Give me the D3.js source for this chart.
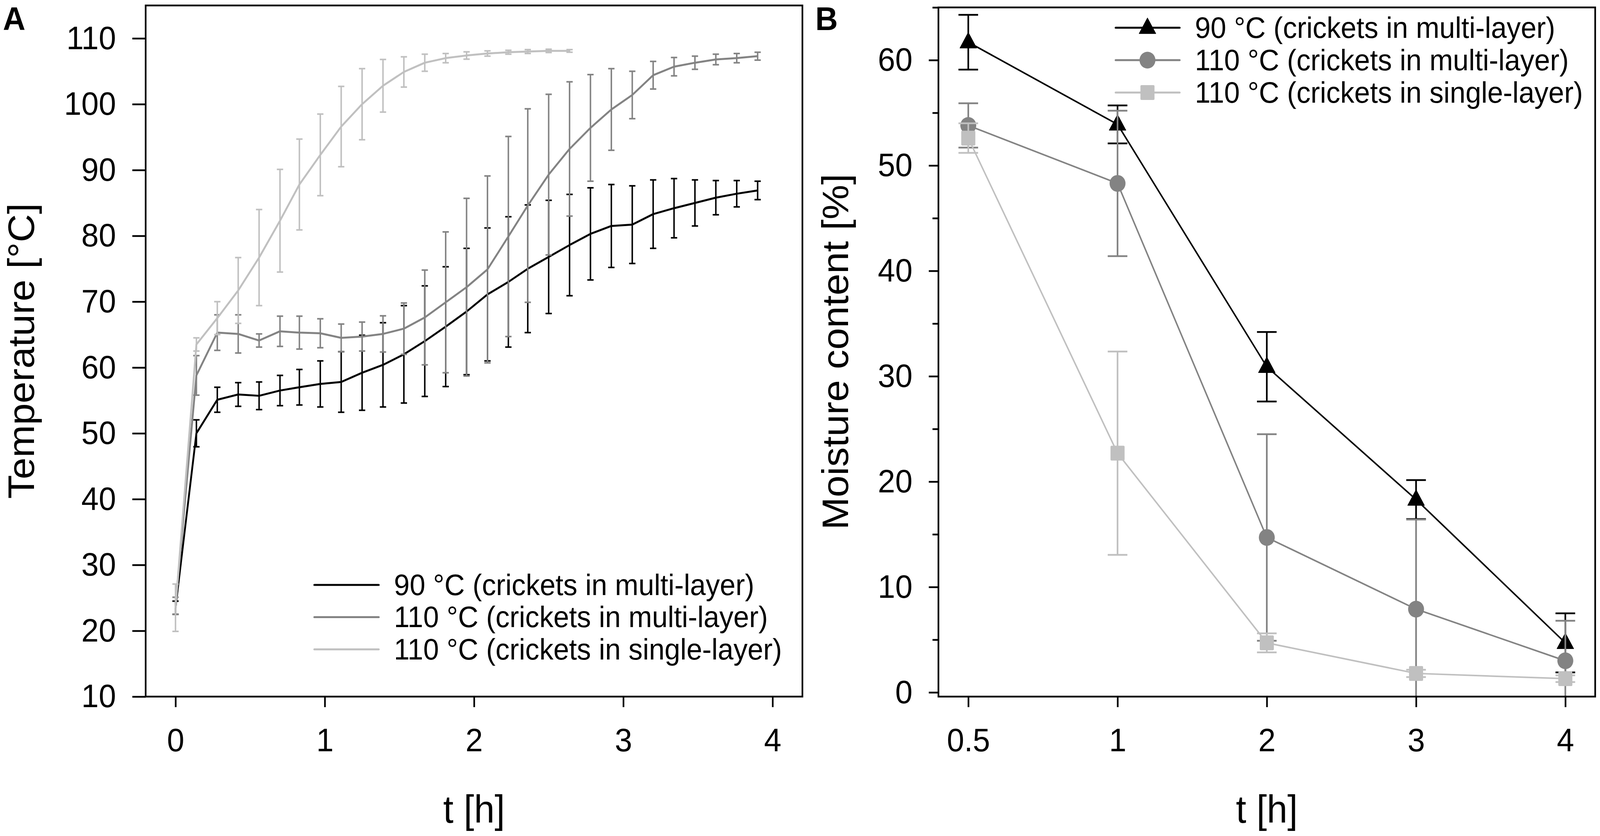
<!DOCTYPE html>
<html>
<head>
<meta charset="utf-8">
<script src="https://cdn.jsdelivr.net/npm/d3@7"></script>
<style>
  html, body { margin: 0; padding: 0; width: 100%; height: 100%; overflow: hidden; background: #fff; }
  svg { display: block; width: 100vw; height: 100vh; }
  text { font-family: "Liberation Sans", Arial, sans-serif; fill: #000; }
</style>
</head>
<body>
<svg id="fig" viewBox="0 0 4317 2141" preserveAspectRatio="none"></svg>
<script>
// Panel A: core temperature during drying (mean and standard deviation)
var timeA = [0, 0.14, 0.28, 0.42, 0.56, 0.7, 0.83, 0.97, 1.11, 1.25, 1.39, 1.53, 1.67, 1.81, 1.95,
             2.09, 2.23, 2.36, 2.5, 2.64, 2.78, 2.92, 3.06, 3.2, 3.34, 3.48, 3.62, 3.76, 3.9];
var temp90Multi = [23.5, 50.0, 55.1, 55.9, 55.7, 56.5, 57.0, 57.5, 57.8, 59.2, 60.4, 62.0, 64.0, 66.2, 68.5,
                   71.1, 73.0, 75.0, 76.8, 78.6, 80.3, 81.5, 81.7, 83.3, 84.2, 85.0, 85.8, 86.4, 86.9];
var temp90MultiSd = [1.0, 2.05, 1.9, 1.8, 2.1, 2.3, 2.7, 3.5, 4.6, 5.7, 6.4, 7.4, 8.4, 9.1, 9.6,
                     10.1, 9.9, 9.7, 8.6, 7.7, 7.0, 6.3, 5.9, 5.2, 4.5, 3.5, 2.6, 2.0, 1.4];
var temp110Multi = [23.8, 58.8, 65.3, 65.1, 64.1, 65.5, 65.3, 65.2, 64.5, 64.7, 65.1, 65.9, 67.6, 69.9, 72.2,
                    74.9, 79.9, 84.6, 89.3, 93.2, 96.4, 99.2, 101.4, 104.4, 105.7, 106.3, 106.8, 107.0, 107.3];
var temp110MultiSd = [1.3, 3.0, 2.7, 2.9, 1.0, 2.3, 2.5, 2.2, 2.1, 2.2, 2.75, 3.9, 7.2, 10.7, 13.5,
                      14.2, 15.2, 14.7, 12.2, 10.2, 8.1, 6.2, 3.6, 2.1, 1.4, 1.0, 0.8, 0.7, 0.6];
var temp110Single = [23.5, 63.5, 67.5, 71.7, 76.7, 82.3, 87.8, 92.3, 96.6, 100.0, 102.8, 104.9, 106.3, 107.0, 107.4,
                     107.7, 107.9, 108.0, 108.1, 108.1];
var temp110SingleSd = [3.6, 1.0, 2.5, 5.0, 7.3, 7.8, 6.9, 6.2, 6.1, 5.4, 4.0, 2.3, 1.3, 0.7, 0.55,
                       0.4, 0.3, 0.3, 0.25, 0.2];
var ticksA_x = [0, 1, 2, 3, 4];
var ticksA_y = [10, 20, 30, 40, 50, 60, 70, 80, 90, 100, 110];

// Panel B: moisture content
var timeB = ["0.5", "1", "2", "3", "4"];
var moist90Multi = [61.7, 53.9, 30.9, 18.3, 4.7];
var moist90MultiSd = [2.6, 1.8, 3.3, 1.85, 2.8];
var moist110Multi = [53.8, 48.3, 14.7, 7.9, 3.0];
var moist110MultiSd = [2.1, 6.9, 9.8, 8.5, 3.8];
var moist110Single = [52.6, 22.7, 4.7, 1.8, 1.3];
var moist110SingleSd = [1.4, 9.65, 0.9, 0.35, 0.32];
var ticksB_y = [0, 10, 20, 30, 40, 50, 60];
var minorB_y = [5, 15, 25, 35, 45, 55, 65];

var seriesNames = ["90 °C (crickets in multi-layer)", "110 °C (crickets in multi-layer)", "110 °C (crickets in single-layer)"];
var colors = ["#000000", "#838383", "#c0c0c0"];

var svg = d3.select("#fig");
var font = "\"Liberation Sans\", Arial, sans-serif";

// ---------- Panel A ----------
var xA = d3.scaleLinear().domain([-0.2, 4.2]).range([393, 2165]);
var yA = d3.scaleLinear().domain([10, 115]).range([1784, 14]);

var clipA = svg.append("clipPath").attr("id", "clipA");
clipA.append("rect").attr("x", 393).attr("y", 14).attr("width", 1772).attr("height", 1770);

var panelA = svg.append("g");

var seriesA = [
    {mean: temp90Multi, sd: temp90MultiSd, color: colors[0]},
    {mean: temp110Multi, sd: temp110MultiSd, color: colors[1]},
    {mean: temp110Single, sd: temp110SingleSd, color: colors[2]}
];

var plotA = panelA.append("g").attr("clip-path", "url(#clipA)");
seriesA.forEach(function(s) {
    var pts = s.mean.map(function(m, i) { return {t: timeA[i], m: m, sd: s.sd[i]}; });
    var g = plotA.append("g");
    g.append("path")
        .datum(pts)
        .attr("fill", "none")
        .attr("stroke", s.color)
        .attr("stroke-width", 5)
        .attr("stroke-linejoin", "round")
        .attr("d", d3.line().x(function(d) { return xA(d.t); }).y(function(d) { return yA(d.m); }));
    // error bars
    var eb = g.selectAll(".eb").data(pts).enter().append("g")
        .attr("stroke", s.color).attr("stroke-width", 4);
    eb.append("line")
        .attr("x1", function(d) { return xA(d.t); }).attr("x2", function(d) { return xA(d.t); })
        .attr("y1", function(d) { return yA(d.m + d.sd); }).attr("y2", function(d) { return yA(d.m - d.sd); });
    eb.append("line")
        .attr("x1", function(d) { return xA(d.t) - 8.5; }).attr("x2", function(d) { return xA(d.t) + 8.5; })
        .attr("y1", function(d) { return yA(d.m + d.sd); }).attr("y2", function(d) { return yA(d.m + d.sd); });
    eb.append("line")
        .attr("x1", function(d) { return xA(d.t) - 8.5; }).attr("x2", function(d) { return xA(d.t) + 8.5; })
        .attr("y1", function(d) { return yA(d.m - d.sd); }).attr("y2", function(d) { return yA(d.m - d.sd); });
});

// axes A
panelA.append("g").attr("transform", "translate(0,1784)")
    .call(d3.axisBottom(xA).tickValues(ticksA_x).tickFormat(d3.format("d")).tickSize(27).tickPadding(53));
panelA.append("g").attr("transform", "translate(393,0)")
    .call(d3.axisLeft(yA).tickValues(ticksA_y).tickFormat(d3.format("d")).tickSize(36).tickPadding(44));

panelA.append("rect").attr("x", 393).attr("y", 14).attr("width", 1772).attr("height", 1770)
    .attr("fill", "none").attr("stroke", "#000").attr("stroke-width", 4.5);

// legend A
var legA = panelA.append("g");
seriesNames.forEach(function(name, i) {
    var ly = 1498 + i * 82.5;
    legA.append("line").attr("x1", 848).attr("x2", 1022).attr("y1", ly).attr("y2", ly)
        .attr("stroke", colors[i]).attr("stroke-width", 5).attr("stroke-linecap", "round");
    legA.append("text").attr("x", 1063).attr("y", ly + 26).style("font-size", "76px").text(name);
});

panelA.append("text").attr("transform", "translate(92,899) rotate(-90)")
    .attr("text-anchor", "middle").style("font-size", "100px").text("Temperature [°C]");
panelA.append("text").attr("x", 1279).attr("y", 2107)
    .attr("text-anchor", "middle").style("font-size", "100px").text("t [h]");
panelA.append("text").attr("x", 8).attr("y", 77)
    .style("font-size", "84px").style("font-weight", "bold").text("A");

// ---------- Panel B ----------
var idxB = d3.scaleLinear().domain([-0.2, 4.2]).range([2532, 4304]);
var xB = function(label) { return idxB(timeB.indexOf(label)); };
var yB = d3.scaleLinear().domain([-0.4, 65]).range([1784, 19]);

var clipB = svg.append("clipPath").attr("id", "clipB");
clipB.append("rect").attr("x", 2532).attr("y", 19).attr("width", 1772).attr("height", 1765);

var panelB = svg.append("g");

var triangle = "M0,-25L22.5,15L-22.5,15Z";
var shapes = ["triangle", "circle", "square"];

function drawMarker(g, shape, x, y, color) {
    if (shape === "triangle") {
        g.append("path").attr("d", triangle).attr("transform", "translate(" + x + "," + y + ")")
            .attr("fill", color).attr("stroke", color).attr("stroke-width", 1.5).attr("stroke-linejoin", "round");
    } else if (shape === "circle") {
        g.append("circle").attr("cx", x).attr("cy", y).attr("r", 21.5).attr("fill", color);
    } else {
        g.append("rect").attr("x", x - 19).attr("y", y - 19).attr("width", 38).attr("height", 38)
            .attr("rx", 3).attr("fill", color);
    }
}

var seriesB = [
    {mean: moist90Multi, sd: moist90MultiSd, color: colors[0], shape: shapes[0]},
    {mean: moist110Multi, sd: moist110MultiSd, color: colors[1], shape: shapes[1]},
    {mean: moist110Single, sd: moist110SingleSd, color: colors[2], shape: shapes[2]}
];

var plotB = panelB.append("g").attr("clip-path", "url(#clipB)");
seriesB.forEach(function(s) {
    var pts = s.mean.map(function(m, i) { return {t: timeB[i], m: m, sd: s.sd[i]}; });
    var g = plotB.append("g");
    g.append("path")
        .datum(pts)
        .attr("fill", "none")
        .attr("stroke", s.color)
        .attr("stroke-width", 4)
        .attr("d", d3.line().x(function(d) { return xB(d.t); }).y(function(d) { return yB(d.m); }));
    var eb = g.selectAll(".eb").data(pts).enter().append("g")
        .attr("stroke", s.color).attr("stroke-width", 4.5);
    eb.append("line")
        .attr("x1", function(d) { return xB(d.t); }).attr("x2", function(d) { return xB(d.t); })
        .attr("y1", function(d) { return yB(d.m + d.sd); }).attr("y2", function(d) { return yB(d.m - d.sd); });
    eb.append("line")
        .attr("x1", function(d) { return xB(d.t) - 26.5; }).attr("x2", function(d) { return xB(d.t) + 26.5; })
        .attr("y1", function(d) { return yB(d.m + d.sd); }).attr("y2", function(d) { return yB(d.m + d.sd); });
    eb.append("line")
        .attr("x1", function(d) { return xB(d.t) - 26.5; }).attr("x2", function(d) { return xB(d.t) + 26.5; })
        .attr("y1", function(d) { return yB(d.m - d.sd); }).attr("y2", function(d) { return yB(d.m - d.sd); });
    pts.forEach(function(d) { drawMarker(g, s.shape, xB(d.t), yB(d.m), s.color); });
});

// axes B
var pointB = d3.scalePoint().domain(timeB).range([idxB(0), idxB(4)]);
panelB.append("g").attr("transform", "translate(0,1784)")
    .call(d3.axisBottom(pointB).tickSize(27).tickPadding(53));
panelB.append("g").attr("transform", "translate(2532,0)")
    .call(d3.axisLeft(yB).tickValues(ticksB_y).tickFormat(d3.format("d")).tickSize(26).tickPadding(44));
panelB.append("g").attr("transform", "translate(2532,0)")
    .call(d3.axisLeft(yB).tickValues(minorB_y).tickFormat("").tickSize(16));

panelB.append("rect").attr("x", 2532).attr("y", 19).attr("width", 1772).attr("height", 1765)
    .attr("fill", "none").attr("stroke", "#000").attr("stroke-width", 4.5);

// legend B
var legB = panelB.append("g");
seriesNames.forEach(function(name, i) {
    var ly = 71 + i * 83;
    legB.append("line").attr("x1", 3010).attr("x2", 3183).attr("y1", ly).attr("y2", ly)
        .attr("stroke", colors[i]).attr("stroke-width", 5).attr("stroke-linecap", "round");
    drawMarker(legB, shapes[i], 3096, ly, colors[i]);
    legB.append("text").attr("x", 3224).attr("y", ly + 26).style("font-size", "76px").text(name);
});

panelB.append("text").attr("transform", "translate(2288,901) rotate(-90)")
    .attr("text-anchor", "middle").style("font-size", "100px").text("Moisture content [%]");
panelB.append("text").attr("x", 3418).attr("y", 2107)
    .attr("text-anchor", "middle").style("font-size", "100px").text("t [h]");
panelB.append("text").attr("x", 2200).attr("y", 77)
    .style("font-size", "84px").style("font-weight", "bold").text("B");

// axis styling shared by both panels
svg.selectAll(".domain").remove();
svg.selectAll(".tick line").attr("stroke", "#000").attr("stroke-width", 4.5);
svg.selectAll(".tick text").style("font-size", "84px").style("font-family", font).attr("fill", "#000");
</script>
</body>
</html>
